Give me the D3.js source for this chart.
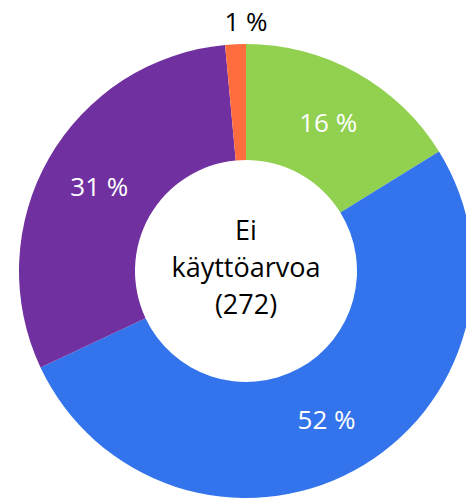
<!DOCTYPE html>
<html>
<head>
<meta charset="utf-8">
<script src="https://cdn.jsdelivr.net/npm/d3@7"></script>
<style>
  body { margin: 0; background: #fff; }
  svg text { font-family: "Open Sans", Lato, sans-serif; }
</style>
</head>
<body>
<svg width="466" height="500"></svg>
<script>
// data (n = 272)
var categories = ["a", "b", "c", "d"];
var counts = [44, 141, 83, 4];
var labels = ["16 %", "52 %", "31 %", "1 %"];
var colors = ["#92d050", "#3373eb", "#7030a0", "#ff6d3f"];
var centerLines = ["Ei", "käyttöarvoa", "(272)"];

var svg = d3.select("svg");
var cx = 246, cy = 271;
var outerR = 227, innerR = 111;

var g = svg.append("g")
    .attr("transform", "translate(" + cx + "," + cy + ")");

var pie = d3.pie().sort(null).value(function(d) { return d; });
var arc = d3.arc().innerRadius(innerR).outerRadius(outerR);
var outArc = d3.arc().innerRadius(249).outerRadius(249);

var arcs = pie(counts);

g.selectAll(".slice")
  .data(arcs)
  .enter().append("path")
    .attr("class", "slice")
    .attr("d", arc)
    .attr("fill", function(d, i) { return colors[i]; });

function small(d) { return (d.endAngle - d.startAngle) < 0.2; }

g.selectAll(".lbl")
  .data(arcs)
  .enter().append("text")
    .attr("class", "lbl")
    .attr("transform", function(d) {
      var c = small(d) ? outArc.centroid(d) : arc.centroid(d);
      if (small(d)) c[0] = 0;
      return "translate(" + c + ")";
    })
    .attr("text-anchor", "middle")
    .attr("dy", "0.35em")
    .attr("font-size", 26)
    .attr("fill", function(d) { return small(d) ? "#000" : "#fff"; })
    .text(function(d, i) { return labels[i]; });

var ct = g.append("text")
    .attr("text-anchor", "middle")
    .attr("font-size", 27)
    .attr("fill", "#000");

ct.selectAll("tspan")
  .data(centerLines)
  .enter().append("tspan")
    .attr("x", 0)
    .attr("y", function(d, i) { return -31 + i * 37; })
    .text(function(d) { return d; });
</script>
</body>
</html>
